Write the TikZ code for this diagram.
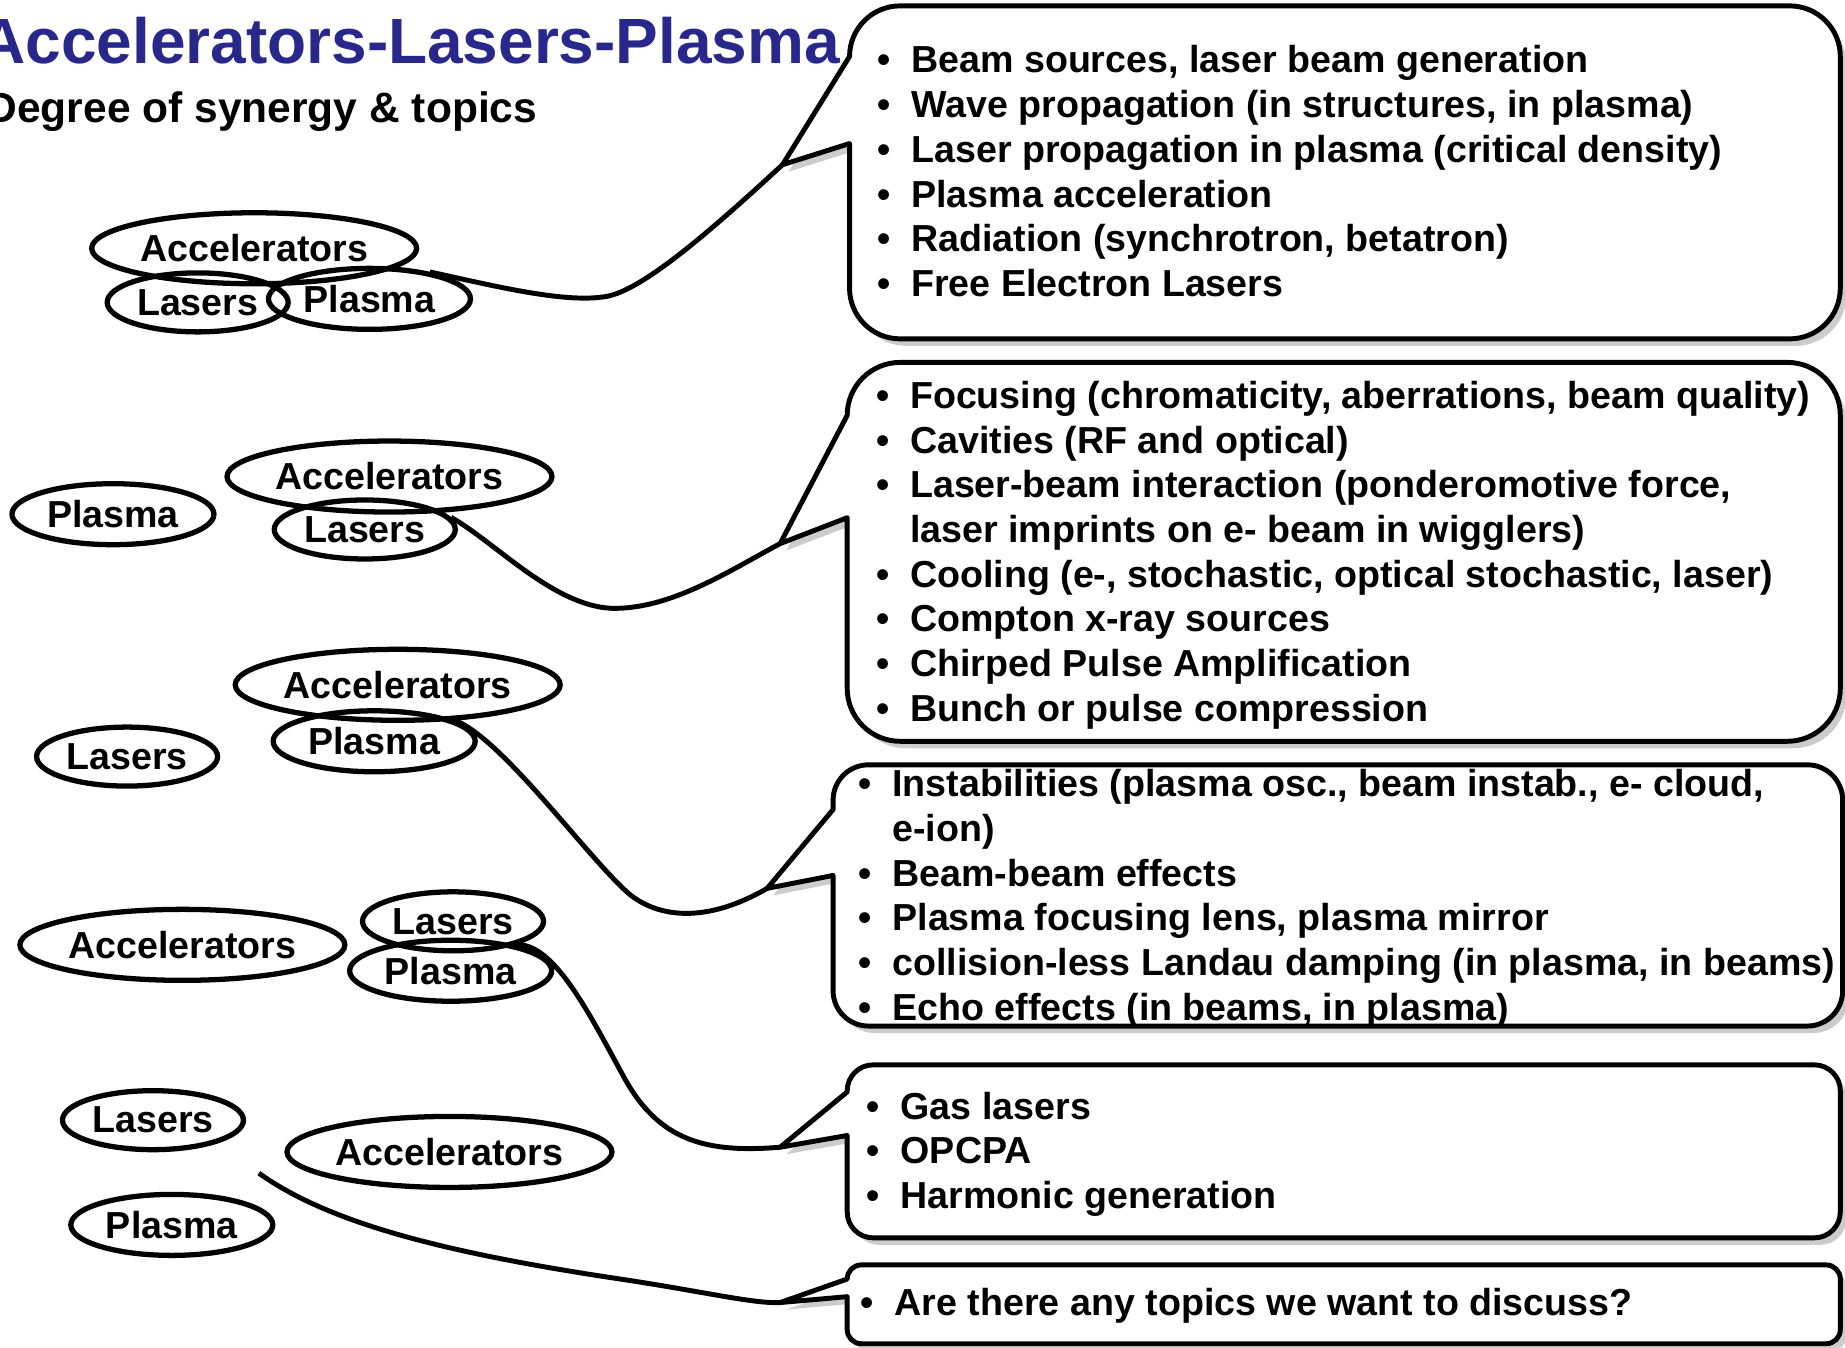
\documentclass[tikz,border=0pt]{standalone}
\usepackage{fontspec}
\setmainfont{Liberation Sans}
\usetikzlibrary{shapes.geometric,shadows}

\definecolor{titleblue}{RGB}{40,40,140}

\newcommand{\itm}{\makebox[3.4mm][l]{\textbullet}}
\newcommand{\cnt}{\hspace*{3.4mm}}
% #1 tip, #2 left, #3 top, #4 right, #5 bottom, #6 radius, #7/#8 pointer ends
\newcommand{\bubble}[8]{%
  \draw[callout] (#1) -- (#2,-#7) -- (#2,-#3-#6)
    arc[start angle=180,end angle=90,radius=#6] -- (#4-#6,-#3)
    arc[start angle=90,end angle=0,radius=#6] -- (#4,-#5+#6)
    arc[start angle=0,end angle=-90,radius=#6] -- (#2+#6,-#5)
    arc[start angle=270,end angle=180,radius=#6] -- (#2,-#8) -- cycle;}

\tikzset{
  blob/.style={ellipse, draw, line width=1.5pt, inner sep=0pt,
    font=\bfseries\fontsize{10.7}{12}\selectfont},
  acc/.style={blob, minimum width=32.5mm, minimum height=7.1mm},
  las/.style={blob, minimum width=18.1mm, minimum height=5.9mm},
  pla/.style={blob, minimum width=20.2mm, minimum height=6.1mm},
  topic/.style={anchor=base west, inner sep=0pt,
    font=\bfseries\fontsize{10.7}{12.7}\selectfont},
  callout/.style={draw, fill=white, line width=1.4pt, line join=round,
    drop shadow={shadow xshift=0.6mm, shadow yshift=-0.7mm, opacity=0.4}},
  link/.style={line width=1.4pt},
}

\begin{document}
\begin{tikzpicture}[x=0.11767mm, y=0.11767mm]

  \useasboundingbox (0,0) rectangle (1568,-1145);

  \node[anchor=base west, inner sep=0pt, text=titleblue,
    font=\bfseries\fontsize{18.2}{20}\selectfont] (title) at (-18,-54)
    {Accelerators-Lasers-Plasma};
  \node[anchor=base west, inner sep=0pt,
    font=\bfseries\fontsize{12.1}{14}\selectfont] (subtitle) at (-12,-104)
    {Degree of synergy \& topics};

  % the five groups
  \node[acc] (acc1) at (216,-211) {Accelerators};
  \node[las] (las1) at (168,-257) {Lasers};
  \node[pla] (pla1) at (314,-254) {Plasma};

  \node[pla] (pla2) at (96,-437)  {Plasma};
  \node[acc] (acc2) at (331,-405) {Accelerators};
  \node[las] (las2) at (310,-450) {Lasers};

  \node[las] (las3) at (108,-643) {Lasers};
  \node[acc] (acc3) at (338,-582) {Accelerators};
  \node[pla] (pla3) at (318,-630) {Plasma};

  \node[acc] (acc4) at (155,-803) {Accelerators};
  \node[las] (las4) at (385,-783) {Lasers};
  \node[pla] (pla4) at (383,-825) {Plasma};

  \node[las] (las5) at (130,-952)  {Lasers};
  \node[acc] (acc5) at (382,-979)  {Accelerators};
  \node[pla] (pla5) at (146,-1041) {Plasma};

  \coordinate (tip1) at (665,-140);
  \coordinate (tip2) at (663,-462);
  \coordinate (tip3) at (652,-755);
  \coordinate (tip4) at (663,-975);
  \coordinate (tip5) at (663,-1107);
  \coordinate (loose) at (220,-997);

  % callouts
  \bubble{tip1}{722}{5}{1564}{288}{43}{48}{122}
  \bubble{tip2}{720}{308}{1564}{630}{45}{353}{440}
  \bubble{tip3}{708}{650}{1566}{872}{30}{688}{744}
  \bubble{tip4}{720}{905}{1564}{1052}{22}{928}{965}
  \bubble{tip5}{720}{1075}{1564}{1142}{12}{1087}{1102}

  % links
  \draw[link] (pla1.24) .. controls (420,-243) and (480,-258) .. (515,-252)
    .. controls (545,-247) and (600,-200) .. (tip1);
  \draw[link] (las2.8) .. controls (420,-460) and (470,-515) .. (520,-517)
    .. controls (570,-518) and (620,-485) .. (tip2);
  \draw[link] (pla3.15) .. controls (425,-625) and (500,-730) .. (535,-760)
    .. controls (560,-780) and (600,-785) .. (tip3);
  \draw[link] (pla4.22) .. controls (470,-800) and (500,-860) .. (530,-915)
    .. controls (560,-970) and (600,-980) .. (tip4);
  \draw[link] (loose) .. controls (280,-1040) and (380,-1065) .. (527,-1087)
    .. controls (600,-1098) and (640,-1108) .. (tip5);

  % topics
  \foreach \t [count=\i from 0] in {
      {\itm Beam sources, laser beam generation},
      {\itm Wave propagation (in structures, in plasma)},
      {\itm Laser propagation in plasma (critical density)},
      {\itm Plasma acceleration},
      {\itm Radiation (synchrotron, betatron)},
      {\itm Free Electron Lasers}}
    \node[topic] (one-\i) at (745,-62-38*\i) {\t};

  \foreach \t [count=\i from 0] in {
      {\itm Focusing (chromaticity, aberrations, beam quality)},
      {\itm Cavities (RF and optical)},
      {\itm Laser-beam interaction (ponderomotive force,},
      {\cnt laser imprints on e- beam in wigglers)},
      {\itm Cooling (e-, stochastic, optical stochastic, laser)},
      {\itm Compton x-ray sources},
      {\itm Chirped Pulse Amplification},
      {\itm Bunch or pulse compression}}
    \node[topic] (two-\i) at (744,-347-38*\i) {\t};

  \foreach \t [count=\i from 0] in {
      {\itm Instabilities (plasma osc., beam instab., e- cloud,},
      {\cnt e-ion)},
      {\itm Beam-beam effects},
      {\itm Plasma focusing lens, plasma mirror},
      {\itm collision-less Landau damping (in plasma, in beams)},
      {\itm Echo effects (in beams, in plasma)}}
    \node[topic] (three-\i) at (729,-677-38*\i) {\t};

  \foreach \t [count=\i from 0] in {
      {\itm Gas lasers},
      {\itm OPCPA},
      {\itm Harmonic generation}}
    \node[topic] (four-\i) at (736,-951-38*\i) {\t};

  \node[topic] (five-0) at (731,-1118) {\itm Are there any topics we want to discuss?};

\end{tikzpicture}
\end{document}
